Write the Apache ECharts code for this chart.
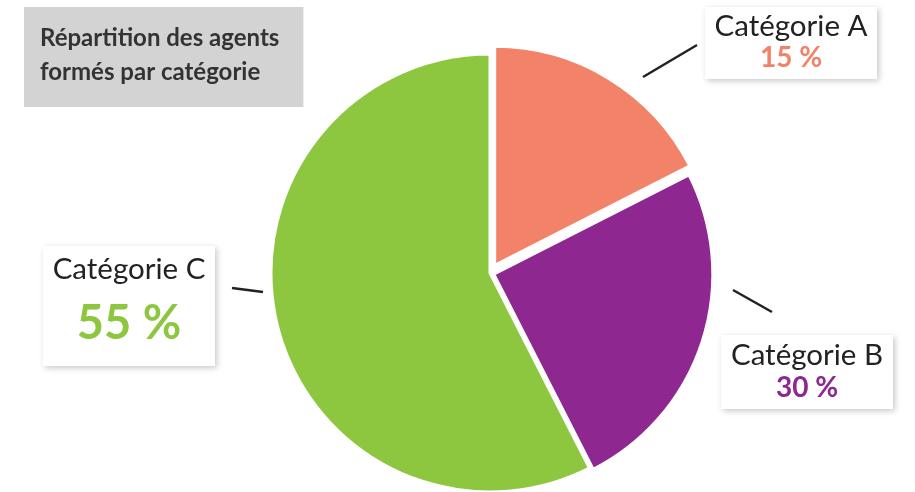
<!DOCTYPE html>
<html style="height: 100%">
<head>
    <meta charset="utf-8">
    <script src="https://cdn.jsdelivr.net/npm/echarts@6/dist/echarts.min.js"></script>
    <title>Répartition des agents formés par catégorie</title>
</head>
<body style="height: 100%; margin: 0; background: #fff">
<div id="container" style="width: 915px; height: 492px"></div>
<script type="text/javascript">
    // data
    let categories = ['Catégorie A', 'Catégorie B', 'Catégorie C'];
    let shares = [17.5, 25, 57.5];          // slice sizes as drawn
    let pctLabels = ['15 %', '30 %', '55 %']; // percentages printed in the boxes
    let colors = ['#f28268', '#8e278f', '#8dc63f'];

    // per label look (font size, line heights, where the box sits)
    let boxStyle = [
        {pct: 28, padTop: 2, padBottom: 6, lh: 34, plh: 30, x: 791, y: 43},
        {pct: 28, padTop: 2, padBottom: 6, lh: 36, plh: 30, x: 807, y: 372},
        {pct: 47, padTop: 4, padBottom: 6, lh: 38, plh: 72, x: 129, y: 306}
    ];

    function makeLabel(i) {
        let s = boxStyle[i];
        return {
            show: true,
            position: 'inside',
            overflow: 'none',
            formatter: '{n|' + categories[i] + '}\n{p|' + pctLabels[i] + '}',
            backgroundColor: '#fff',
            width: 140,
            align: 'center',
            padding: [s.padTop, 16, s.padBottom, 16],
            shadowBlur: 6,
            shadowColor: 'rgba(0,0,0,0.22)',
            shadowOffsetX: 2,
            shadowOffsetY: 2,
            rich: {
                n: {fontFamily: 'Lato', fontSize: 29.5, color: '#222', lineHeight: s.lh, align: 'center'},
                p: {fontFamily: 'Lato', fontSize: s.pct, fontWeight: 'bold', color: colors[i],
                    lineHeight: s.plh, align: 'center'}
            }
        };
    }

    // slice A is pulled out further than B, so it goes in its own series
    function buildSlices(onlyA) {
        return categories.map(function (c, i) {
            let visible = onlyA ? i === 0 : i !== 0;
            return {
                name: c,
                value: shares[i],
                selected: visible && i !== 2,
                itemStyle: visible
                    ? {color: colors[i], borderColor: '#fff', borderWidth: 3}
                    : {color: 'rgba(0,0,0,0)', borderWidth: 0}
            };
        });
    }

    // invisible copy that only carries the label boxes
    function buildLabels() {
        return categories.map(function (c, i) {
            return {
                name: c,
                value: shares[i],
                itemStyle: {color: 'rgba(0,0,0,0)', borderWidth: 0},
                label: makeLabel(i)
            };
        });
    }

    function placeLabel(params) {
        let s = boxStyle[params.dataIndex];
        return {x: s.x, y: s.y, align: 'center', verticalAlign: 'middle'};
    }

    let baseSeries = {
        type: 'pie',
        center: [490, 273],
        radius: [0, 219],
        startAngle: 90,
        clockwise: true,
        animation: false,
        silent: true,
        avoidLabelOverlap: false,
        selectedMode: 'multiple',
        label: {show: false},
        labelLine: {show: false},
        emphasis: {disabled: true}
    };

    let dom = document.getElementById('container');
    let chart = echarts.init(dom, null, {renderer: 'canvas'});
    chart.setOption({
        backgroundColor: '#fff',
        title: {
            text: 'Répartition des agents\nformés par catégorie',
            left: 24,
            top: 7,
            backgroundColor: '#d3d3d4',
            padding: [14, 24, 18, 16],
            textStyle: {fontFamily: 'Lato', fontSize: 24, fontWeight: 'bold', color: '#333', lineHeight: 34}
        },
        series: [
            Object.assign({}, baseSeries, {selectedOffset: 4, data: buildSlices(false)}),
            Object.assign({}, baseSeries, {selectedOffset: 9, data: buildSlices(true)}),
            Object.assign({}, baseSeries, {selectedMode: false, labelLayout: placeLabel, data: buildLabels()})
        ],
        // short leader strokes next to the boxes
        graphic: [
            {type: 'line', shape: {x1: 643, y1: 77, x2: 697, y2: 45}, style: {stroke: '#222', lineWidth: 2.5}},
            {type: 'line', shape: {x1: 733, y1: 290, x2: 772, y2: 312}, style: {stroke: '#222', lineWidth: 2.5}},
            {type: 'line', shape: {x1: 232, y1: 288, x2: 263, y2: 292}, style: {stroke: '#222', lineWidth: 2.5}}
        ]
    });
</script>
</body>
</html>
